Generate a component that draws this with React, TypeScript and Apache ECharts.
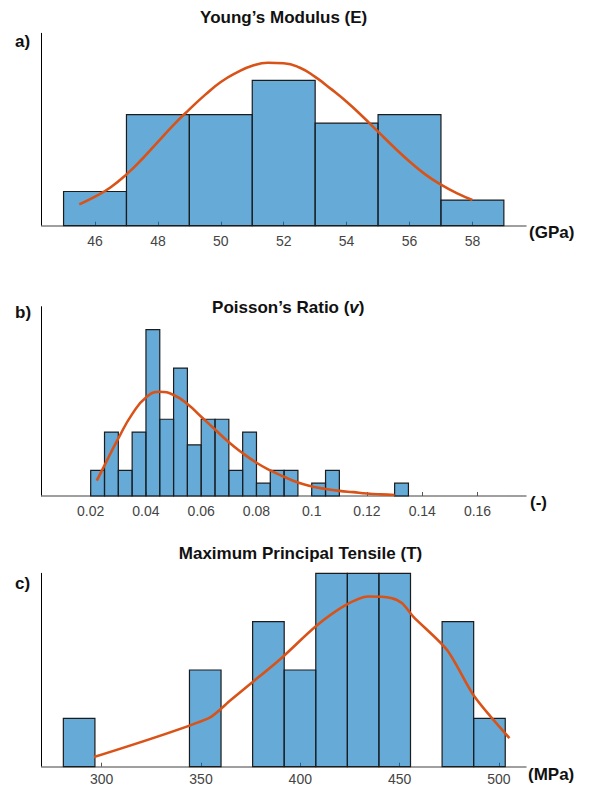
import { useEffect, useRef } from 'react';
import * as echarts from 'echarts';

// ---- Panel a: Young's Modulus ----
const youngEdges = [45, 47, 49, 51, 53, 55, 57, 59];
const youngCounts = [4, 13, 13, 17, 12, 13, 3];
const youngTicks = [46, 48, 50, 52, 54, 56, 58];
const youngFitX = [45.5, 46, 46.5, 47, 47.5, 48, 48.5, 49, 49.5, 50, 50.5, 51, 51.5, 52, 52.5, 53, 53.5, 54, 54.5, 55, 55.5, 56, 56.5, 57, 57.5, 58];
const youngFitY = [2.5, 3.4, 4.5, 6.0, 7.8, 9.8, 11.8, 13.6, 15.3, 16.8, 17.9, 18.7, 19.05, 19.0, 18.5, 17.4, 16.0, 14.5, 12.8, 11.0, 9.2, 7.5, 6.0, 4.8, 3.8, 3.0];

// ---- Panel b: Poisson's Ratio ----
const poissonEdges = [0.02, 0.025, 0.03, 0.035, 0.04, 0.045, 0.05, 0.055, 0.06, 0.065, 0.07, 0.075, 0.08, 0.085, 0.09, 0.095, 0.1, 0.105, 0.11, 0.115, 0.12, 0.125, 0.13, 0.135];
const poissonCounts = [2, 5, 2, 5, 13, 6, 10, 4, 6, 6, 2, 5, 1, 2, 2, 0, 1, 2, 0, 0, 0, 0, 1];
const poissonTicks = [0.02, 0.04, 0.06, 0.08, 0.1, 0.12, 0.14, 0.16];
const poissonFitX = [0.0222, 0.025, 0.03, 0.035, 0.04, 0.045, 0.05, 0.055, 0.06, 0.065, 0.07, 0.075, 0.08, 0.085, 0.09, 0.095, 0.1, 0.105, 0.11, 0.115, 0.12, 0.125, 0.13];
const poissonFitY = [1.2, 2.4, 4.5, 6.4, 7.7, 8.15, 7.9, 7.2, 6.2, 5.2, 4.2, 3.35, 2.6, 2.0, 1.5, 1.05, 0.75, 0.55, 0.4, 0.3, 0.2, 0.13, 0.08];

// ---- Panel c: Maximum Principal Tensile ----
const tensileEdges = [280.7, 296.6, 312.5, 328.3, 344.2, 360.1, 376.0, 391.9, 407.8, 423.7, 439.6, 455.5, 471.4, 487.3, 503.2];
const tensileCounts = [1, 0, 0, 0, 2, 0, 3, 2, 4, 4, 4, 0, 3, 1];
const tensileTicks = [300, 350, 400, 450, 500];
const tensileFitX = [296.1, 353.7, 365, 376, 390.6, 407.7, 422.8, 434.2, 445.6, 451.3, 457, 474, 487.7, 505.3];
const tensileFitY = [0.2, 1.0, 1.38, 1.75, 2.25, 2.9, 3.34, 3.52, 3.49, 3.38, 3.1, 2.41, 1.45, 0.59];

const FONT = '"Liberation Sans", Arial, Helvetica, sans-serif';
const BAR_FILL = 'rgba(0,114,189,0.6)';
const BAR_EDGE = '#1c1c1c';
const FIT_COLOR = '#D95319';

function binData(edges: number[], counts: number[]) {
  return counts.map((c, i) => [edges[i], edges[i + 1], c]);
}
function pairs(xs: number[], ys: number[]) {
  return xs.map((x, i) => [x, ys[i]]);
}

const renderBar = (params: any, api: any) => {
  const x0 = api.value(0);
  const x1 = api.value(1);
  const h = api.value(2);
  if (!h) return null;
  const p0 = api.coord([x0, 0]);
  const p1 = api.coord([x1, h]);
  return {
    type: 'rect',
    shape: { x: p0[0], y: p1[1], width: p1[0] - p0[0], height: p0[1] - p1[1] },
    style: { fill: BAR_FILL, stroke: BAR_EDGE, lineWidth: 1.2 },
  };
};

export default function App() {
  const ref = useRef<HTMLDivElement>(null);
  useEffect(() => {
    if (!ref.current) return;
    const chart = echarts.init(ref.current, undefined, { renderer: 'svg' });

    const grids = [
      { left: 41.7, top: 33.3, width: 484.3, height: 192.4, outerBoundsMode: 'none' },
      { left: 41.7, top: 306.7, width: 484.3, height: 189.3, outerBoundsMode: 'none' },
      { left: 41.7, top: 573.3, width: 484.3, height: 193.4, outerBoundsMode: 'none' },
    ];
    const xRanges = [
      [44.305, 59.704],
      [0.002266, 0.17755],
      [269.8, 513.65],
    ];
    const yMax = [22.5, 14.8, 4.0];
    const ticks = [youngTicks, poissonTicks, tensileTicks];
    const margins = [8, 8, 5];

    const xAxis = xRanges.map((r, i) => ({
      type: 'value',
      gridIndex: i,
      min: r[0],
      max: r[1],
      axisLine: { show: true, lineStyle: { color: '#808080', width: 1.5 } },
      axisTick: { show: true, inside: true, length: 4, customValues: ticks[i], lineStyle: { color: '#555', width: 1 } },
      axisLabel: { show: true, customValues: ticks[i], margin: margins[i], color: '#444', fontSize: 14, fontFamily: FONT },
      splitLine: { show: false },
    }));
    const yAxis = yMax.map((m, i) => ({
      type: 'value',
      gridIndex: i,
      min: 0,
      max: m,
      axisLine: { show: true, lineStyle: { color: '#000', width: 1 } },
      axisTick: { show: false },
      axisLabel: { show: false },
      splitLine: { show: false },
    }));

    const hist = [
      binData(youngEdges, youngCounts),
      binData(poissonEdges, poissonCounts),
      binData(tensileEdges, tensileCounts),
    ];
    const fits = [
      { d: pairs(youngFitX, youngFitY), s: true as any },
      { d: pairs(poissonFitX, poissonFitY), s: true as any },
      { d: pairs(tensileFitX, tensileFitY), s: 0.25 as any },
    ];

    const series: any[] = [];
    hist.forEach((d, i) => {
      series.push({
        type: 'custom',
        xAxisIndex: i,
        yAxisIndex: i,
        renderItem: renderBar,
        encode: { x: [0, 1], y: 2 },
        data: d,
        z: 2,
      });
    });
    fits.forEach((f, i) => {
      series.push({
        type: 'line',
        xAxisIndex: i,
        yAxisIndex: i,
        data: f.d,
        smooth: f.s,
        showSymbol: false,
        symbol: 'none',
        lineStyle: { color: FIT_COLOR, width: 2.6 },
        z: 3,
      });
    });

    const titleStyle = (text: string, x: number, y: number) => ({
      type: 'text',
      x,
      y,
      style: {
        text,
        fill: '#111',
        fontSize: 17,
        fontWeight: 'bold',
        fontFamily: FONT,
        align: 'center',
        verticalAlign: 'middle',
      },
    });
    const leftText = (text: string, x: number, y: number, size = 17) => ({
      type: 'text',
      x,
      y,
      style: {
        text,
        fill: '#111',
        fontSize: size,
        fontWeight: 'bold',
        fontFamily: FONT,
        align: 'left',
        verticalAlign: 'middle',
      },
    });

    chart.setOption({
      animation: false,
      backgroundColor: '#fff',
      grid: grids,
      xAxis,
      yAxis,
      series,
      graphic: [
        titleStyle('Young\u2019s Modulus (E)', 283.7, 17),
        {
          type: 'text',
          x: 288.3,
          y: 307,
          style: {
            text: '{n|Poisson\u2019s Ratio (}{i|v}{n|)}',
            align: 'center',
            verticalAlign: 'middle',
            rich: {
              n: { fontSize: 17, fontWeight: 'bold', fontFamily: FONT, fill: '#111' },
              i: { fontSize: 17, fontWeight: 'bold', fontStyle: 'italic', fontFamily: FONT, fill: '#111' },
            },
          },
        },
        titleStyle('Maximum Principal Tensile (T)', 300.5, 553),
        leftText('a)', 15, 41.7),
        leftText('b)', 15, 312.5),
        leftText('c)', 15, 583),
        leftText('(GPa)', 529, 232),
        leftText('(-)', 530, 502),
        leftText('(MPa)', 528, 774),
      ],
    });
    return () => chart.dispose();
  }, []);
  return <div ref={ref} style={{ position: 'absolute', left: 0, top: 0, width: 589, height: 788 }} />;
}
